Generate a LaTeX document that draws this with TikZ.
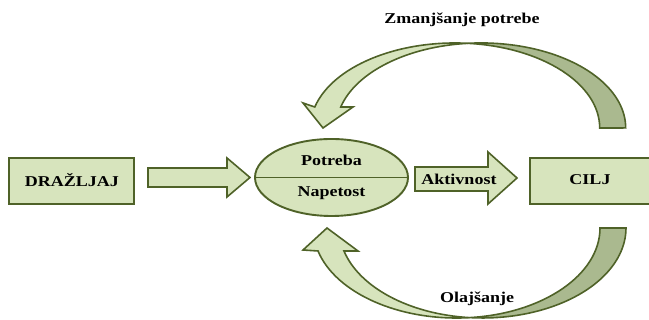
\documentclass[tikz,border=0pt]{standalone}
\usepackage{fontspec}
\setmainfont{Liberation Serif}[FakeStretch=1.2]
\usepackage{tikz}
\usetikzlibrary{shapes.geometric}
\definecolor{svijetla}{HTML}{D7E4BD}
\definecolor{tamna}{HTML}{AAB98F}
\definecolor{rub}{HTML}{4F6228}
\tikzset{
  kutija/.style={draw=rub, fill=svijetla, line width=1.9pt},
  strelica/.style={draw=rub, fill=svijetla, line width=1.6pt, line join=miter},
  sjena/.style={draw=rub, fill=tamna, line width=1.6pt},
  tekst/.style={font=\fontsize{15}{17}\selectfont\bfseries, inner sep=0pt}
}

\begin{document}
\begin{tikzpicture}[x=1pt,y=1pt]
\useasboundingbox (0,0) rectangle (649,320);
\clip (0,0) rectangle (649,320);
% kutije
\draw[kutija] (9,116) rectangle (134,162);
\draw[kutija] (530,116) rectangle (652,162);
\node[tekst] (a) at (72,140) {DRAŽLJAJ};
\node[tekst] (b) at (590,140) {CILJ};
% elipsa
\node[ellipse, kutija, minimum width=153, minimum height=77, inner sep=0pt] (c) at (331.5,142.5) {};
\draw[rub, line width=1.6pt] (c.west) -- (c.east);
\node[tekst] (d) at (331.5,160) {Potreba};
\node[tekst] (e) at (331.5,127) {Napetost};
% ravne strelice
\draw[strelica] (148,133) -- (227,133) -- (227,123) -- (250,142.5) -- (227,162) -- (227,152) -- (148,152) -- cycle;
\draw[strelica] (415,129) -- (488,129) -- (488,116) -- (517,142) -- (488,168) -- (488,153) -- (415,153) -- cycle;
\node[tekst] (f) at (459,141) {Aktivnost};
% gornja zakrivljena strelica
\draw[sjena] (468,276.7) arc[start angle=95.15, end angle=0, x radius=144.7pt, y radius=85pt] -- (599.7,192) arc[start angle=0, end angle=84.85, x radius=144.7pt, y radius=85pt] -- cycle;
\draw[strelica] (314.8,213) arc[start angle=165.7, end angle=84.85, x radius=144.7pt, y radius=85pt] arc[start angle=95.15, end angle=165.7, x radius=144.7pt, y radius=85pt] -- (353,213) -- (323,192) -- (303,217) -- cycle;
% donja zakrivljena strelica
\draw[sjena] (469.6,2.4) arc[start angle=264.8, end angle=360, x radius=143.4pt, y radius=90pt] -- (600,92) arc[start angle=360, end angle=275.2, x radius=143.4pt, y radius=90pt] -- cycle;
\draw[strelica] (318,69) arc[start angle=194.8, end angle=275.2, x radius=143.4pt, y radius=90pt] arc[start angle=264.8, end angle=194.8, x radius=143.4pt, y radius=90pt] -- (358,69) -- (327,92) -- (303,70) -- cycle;
\node[tekst] (g) at (462,300) {Zmanjšanje potrebe};
\node[tekst] (h) at (477,21) {Olajšanje};
\end{tikzpicture}
\end{document}
